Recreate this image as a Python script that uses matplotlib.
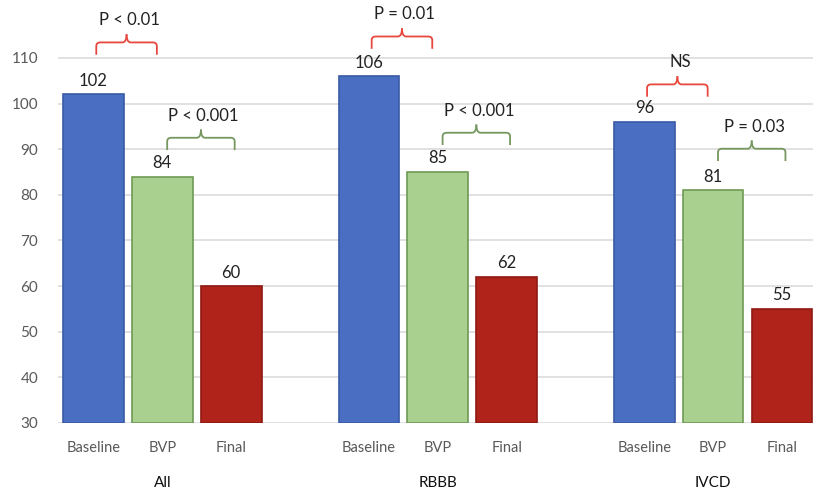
import matplotlib
matplotlib.use("Agg")
import matplotlib.pyplot as plt
from matplotlib.path import Path
from matplotlib.patches import PathPatch
from matplotlib.transforms import blended_transform_factory

plt.rcParams['font.family'] = ['Lato', 'DejaVu Sans']

# mean values per group: baseline, BVP, final
groups = ['All', 'RBBB', 'IVCD']
phases = ['Baseline', 'BVP', 'Final']
baseline = [102, 106, 96]
bvp = [84, 85, 81]
final = [60, 62, 55]

# significance labels: baseline vs BVP, BVP vs final
p_base_bvp = ['P < 0.01', 'P = 0.01', 'NS']
p_bvp_final = ['P < 0.001', 'P < 0.001', 'P = 0.03']

# bracket foot levels for the annotations
red_levels = [110.7, 112.0, 101.5]
green_levels = [89.8, 90.9, 87.4]

bar_colors = ['#4a6ec2', '#a9d08e', '#b0231a']
edge_colors = ['#3a5aa6', '#6f9a55', '#8e1a12']

fig = plt.figure(figsize=(8.13, 4.94), dpi=100)
ax = fig.add_axes([0.071, 0.144, 0.929, 0.856])

values = [baseline, bvp, final]
xs_all = []
for g in range(len(groups)):
    for k in range(3):
        x = g * 4 + k
        v = values[k][g]
        ax.bar(x, v - 30, bottom=30, width=0.88, color=bar_colors[k],
               edgecolor=edge_colors[k], linewidth=1.2, zorder=3)
        ax.text(x, v + 1.2, str(v), ha='center', va='bottom',
                fontsize=12, color='#222222', zorder=4)
        xs_all.append(x)


def bracket(x0, x1, y, label, color):
    # curly-style bracket with rounded corners and a small centre peak
    h = 2.7
    tick = 1.8
    r = 0.06
    xm = (x0 + x1) / 2
    top = y + h
    verts = [(x0, y), (x0, top - 0.8), (x0, top), (x0 + r, top),
             (xm - r, top), (xm, top), (xm, top + tick)]
    codes = [Path.MOVETO, Path.LINETO, Path.CURVE3, Path.CURVE3,
             Path.LINETO, Path.CURVE3, Path.CURVE3]
    verts2 = [(x1, y), (x1, top - 0.8), (x1, top), (x1 - r, top),
              (xm + r, top), (xm, top), (xm, top + tick)]
    for vv in (verts, verts2):
        ax.add_patch(PathPatch(Path(vv, codes), fill=False, edgecolor=color,
                               lw=1.3, zorder=4))
    ax.text(xm + 0.04, top + tick + 1.3, label, ha='center', va='bottom',
            fontsize=12, color='#222222')


for g in range(len(groups)):
    base = g * 4
    bracket(base + 0.04, base + 0.92, red_levels[g], p_base_bvp[g], '#e8473d')
    bracket(base + 1.07, base + 2.05, green_levels[g], p_bvp_final[g], '#76975f')

ax.set_ylim(30, 122.7)
ax.set_xlim(-0.52, 10.45)
ax.set_yticks(range(30, 111, 10))
ax.yaxis.grid(True, color='#dcdcdc', lw=1.2, zorder=0)
ax.set_axisbelow(True)
for s in ax.spines.values():
    s.set_visible(False)
ax.tick_params(axis='y', length=0, pad=14, labelsize=11, labelcolor='#595959')
ax.set_xticks(xs_all)
ax.set_xticklabels(phases * len(groups))
ax.tick_params(axis='x', length=0, pad=13, labelsize=10.5, labelcolor='#595959')

trans = blended_transform_factory(ax.transData, ax.transAxes)
for g, name in enumerate(groups):
    ax.text(g * 4 + 1, -0.142, name, transform=trans, ha='center',
            va='center', fontsize=11, color='#111111')

fig.savefig('out.png', dpi=100)
